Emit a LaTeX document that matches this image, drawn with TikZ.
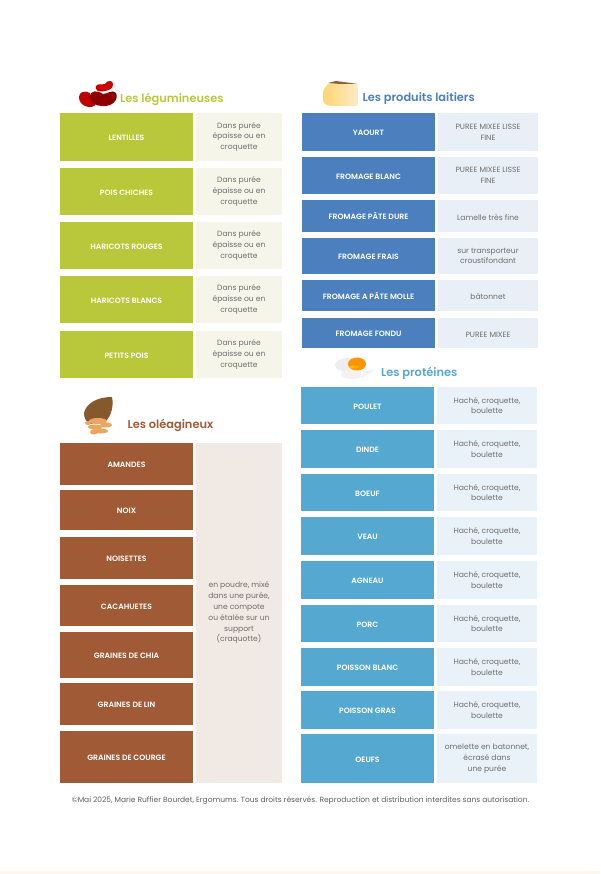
\documentclass[tikz,border=0pt]{standalone}
\usepackage{fontspec}
\setmainfont{Poppins}
\newfontfamily\mediumfont{Poppins SemiBold}
\definecolor{legume}{HTML}{B9C83B}
\definecolor{legumelight}{HTML}{F5F6E9}
\definecolor{laitier}{HTML}{4B7FBE}
\definecolor{laitierlight}{HTML}{E9EFF7}
\definecolor{oleag}{HTML}{A05B36}
\definecolor{oleaglight}{HTML}{F1E9E3}
\definecolor{proteine}{HTML}{55A8CF}
\definecolor{proteinelight}{HTML}{E9F2F9}
\definecolor{bodygrey}{HTML}{6E6E6E}
\tikzset{
	food/.style={inner sep=0pt, text=white, align=center, font=\fontsize{7.7}{9}\mediumfont, execute at begin node={\rule{0pt}{7.5pt}}},
	howto/.style={inner sep=0pt, text=bodygrey, align=center, font=\fontsize{7.6}{10.8}\selectfont, execute at begin node={\rule{0pt}{8.5pt}}},
	title/.style={inner sep=0pt, anchor=west, font=\fontsize{11.4}{12}\mediumfont},
}
\begin{document}
\begin{tikzpicture}[x=1pt,y=-1pt]
	\useasboundingbox (0,0) rectangle (600,874);
	\fill[white] (0,0) rectangle (600,874);
	\fill[orange!8] (0,871) rectangle (600,874);

	% legumineuses
	\tikzset{food/.append style={fill=legume, minimum width=133pt},
		howto/.append style={fill=legumelight, minimum width=86pt}}
	\node[title, text=legume] (tleg) at (120,99) {Les légumineuses};
	\node[food, minimum height=48pt] (lent) at (126.5,137) {LENTILLES};
	\node[howto, minimum height=48pt] (lentc) at (239,137) {Dans purée\\épaisse ou en\\croquette};
	\node[food, minimum height=47pt] (pois) at (126.5,191.5) {POIS CHICHES};
	\node[howto, minimum height=47pt] (poisc) at (239,191.5) {Dans purée\\épaisse ou en\\croquette};
	\node[food, minimum height=47pt] (rouge) at (126.5,245.5) {HARICOTS ROUGES};
	\node[howto, minimum height=47pt] (rougec) at (239,245.5) {Dans purée\\épaisse ou en\\croquette};
	\node[food, minimum height=47pt] (blanc) at (126.5,299.5) {HARICOTS BLANCS};
	\node[howto, minimum height=47pt] (blancc) at (239,299.5) {Dans purée\\épaisse ou en\\croquette};
	\node[food, minimum height=47pt] (petit) at (126.5,354.5) {PETITS POIS};
	\node[howto, minimum height=47pt] (petitc) at (239,354.5) {Dans purée\\épaisse ou en\\croquette};

	% oleagineux
	\tikzset{food/.append style={fill=oleag},
		howto/.append style={fill=oleaglight}}
	\node[title, text=oleag] (tole) at (127.5,425) {Les oléagineux};
	\node[food, minimum height=42pt] (amande) at (126.5,464) {AMANDES};
	\node[food, minimum height=40pt] (noix) at (126.5,510) {NOIX};
	\node[food, minimum height=42pt] (noisette) at (126.5,558) {NOISETTES};
	\node[food, minimum height=41pt] (cacahuete) at (126.5,605.5) {CACAHUETES};
	\node[food, minimum height=46pt] (chia) at (126.5,655) {GRAINES DE CHIA};
	\node[food, minimum height=42pt] (lin) at (126.5,704) {GRAINES DE LIN};
	\node[food, minimum height=52pt] (courge) at (126.5,757) {GRAINES DE COURGE};
	\node[howto, minimum height=340pt] (oleac) at (239,613) {en poudre, mixé\\dans une purée,\\une compote\\ou étalée sur un\\support\\(craquotte)};

	% produits laitiers
	\tikzset{food/.append style={fill=laitier},
		howto/.append style={fill=laitierlight, minimum width=100pt}}
	\node[title, text=laitier] (tlai) at (362.5,99) {Les produits laitiers};
	\node[food, minimum height=38pt] (yaourt) at (368.5,132) {YAOURT};
	\node[howto, minimum height=38pt] (yaourtc) at (488,132) {PUREE MIXEE LISSE\\FINE};
	\node[food, minimum height=37pt] (fblanc) at (368.5,175.5) {FROMAGE BLANC};
	\node[howto, minimum height=37pt] (fblancc) at (488,175.5) {PUREE MIXEE LISSE\\FINE};
	\node[food, minimum height=32pt] (fdure) at (368.5,216) {FROMAGE PÂTE DURE};
	\node[howto, minimum height=32pt] (fdurec) at (488,216) {Lamelle très fine};
	\node[food, minimum height=36pt] (ffrais) at (368.5,256) {FROMAGE FRAIS};
	\node[howto, minimum height=36pt] (ffraisc) at (488,256) {sur transporteur\\croustifondant};
	\node[food, minimum height=31pt] (fmolle) at (368.5,295.5) {FROMAGE A PÂTE MOLLE};
	\node[howto, minimum height=31pt] (fmollec) at (488,295.5) {bâtonnet};
	\node[food, minimum height=30pt] (ffondu) at (368.5,333) {FROMAGE FONDU};
	\node[howto, minimum height=30pt] (ffonduc) at (488,333) {PUREE MIXEE};

	% proteines
	\tikzset{food/.append style={fill=proteine},
		howto/.append style={fill=proteinelight}}
	\node[title, text=proteine] (tpro) at (381,373) {Les protéines};
	\node[food, minimum height=37pt] (poulet) at (367.5,405.5) {POULET};
	\node[howto, minimum height=37pt] (poulc) at (487,405.5) {Haché, croquette,\\boulette};
	\node[food, minimum height=38pt] (dinde) at (367.5,449) {DINDE};
	\node[howto, minimum height=38pt] (dindc) at (487,449) {Haché, croquette,\\boulette};
	\node[food, minimum height=37pt] (boeuf) at (367.5,492.5) {BOEUF};
	\node[howto, minimum height=37pt] (boefc) at (487,492.5) {Haché, croquette,\\boulette};
	\node[food, minimum height=38pt] (veau) at (367.5,536) {VEAU};
	\node[howto, minimum height=38pt] (veauc) at (487,536) {Haché, croquette,\\boulette};
	\node[food, minimum height=38pt] (agneau) at (367.5,580) {AGNEAU};
	\node[howto, minimum height=38pt] (agnc) at (487,580) {Haché, croquette,\\boulette};
	\node[food, minimum height=37pt] (porc) at (367.5,623.5) {PORC};
	\node[howto, minimum height=37pt] (porcc) at (487,623.5) {Haché, croquette,\\boulette};
	\node[food, minimum height=38pt] (pblanc) at (367.5,667) {POISSON BLANC};
	\node[howto, minimum height=38pt] (pblancc) at (487,667) {Haché, croquette,\\boulette};
	\node[food, minimum height=38pt] (pgras) at (367.5,710) {POISSON GRAS};
	\node[howto, minimum height=38pt] (pgrasc) at (487,710) {Haché, croquette,\\boulette};
	\node[food, minimum height=49pt] (oeufs) at (367.5,758.5) {OEUFS};
	\node[howto, minimum height=49pt] (oeufc) at (487,758.5) {omelette en batonnet,\\écrasé dans\\une purée};

	\node[inner sep=0pt, text=bodygrey!85!black, font=\fontsize{7.5}{8}\selectfont] (credit) at (300.5,801) {©Mai 2025, Marie Ruffier Bourdet, Ergomums. Tous droits réservés. Reproduction et distribution interdites sans autorisation.};

	% beans
	\fill[red!75!black] (79,97) .. controls (79,92) and (85,90) .. (90,93) .. controls (90,98) and (92,101) .. (96,103) .. controls (96,107) and (89,108) .. (85,106) .. controls (81,104) and (79,101) .. (79,97);
	\fill[red!55!black] (90,97) .. controls (90,90) and (97,90) .. (103,94) .. controls (108,94) and (112,89) .. (116,93) .. controls (119,100) and (112,107) .. (102,106) .. controls (95,106) and (90,102) .. (90,97);
	\fill[red!80!black] (96,86) .. controls (98,83) and (102,85) .. (105,84) .. controls (107,80) and (113,80) .. (113,84) .. controls (114,89) and (107,91) .. (102,91.5) .. controls (98,92) and (95,90) .. (96,86);

	% cheese
	\shade[left color=yellow!40!orange!55!white, right color=yellow!25!orange!22!white, rounded corners=2pt] (323,103) -- (323,90) -- (329,83) -- (358,84) -- (358,106) -- (329,106) -- cycle;
	\fill[brown!75!black] (328,83) -- (336,81) -- (358,84) -- (340,84) -- cycle;

	% walnut
	\fill[brown!70!black] (84,413) .. controls (86,404) and (96,397) .. (112,397) .. controls (114,406) and (111,416) .. (106,421) -- (90,424) .. controls (86,422) and (84,418) .. (84,413);
	\fill[orange!55!brown!70!white] (88,423) ellipse (3pt and 2pt) (98,421) ellipse (9pt and 3pt) (106,425) ellipse (6pt and 2.5pt) (95,427) ellipse (7pt and 2.5pt) (101,431) ellipse (7pt and 2.5pt) (94,432) ellipse (4pt and 2.5pt);

	% egg
	\fill[gray!13] (348,365) ellipse (13pt and 7pt);
	\fill[gray!10] (352,374) ellipse (11pt and 5pt) (360,372) -- (375,369.5) -- (362,378) -- cycle;
	\fill[orange!85!yellow] (357,364) ellipse (9pt and 6.5pt);
	\fill[orange!55!yellow] (354,367) ellipse (5pt and 1.5pt);
\end{tikzpicture}
\end{document}
